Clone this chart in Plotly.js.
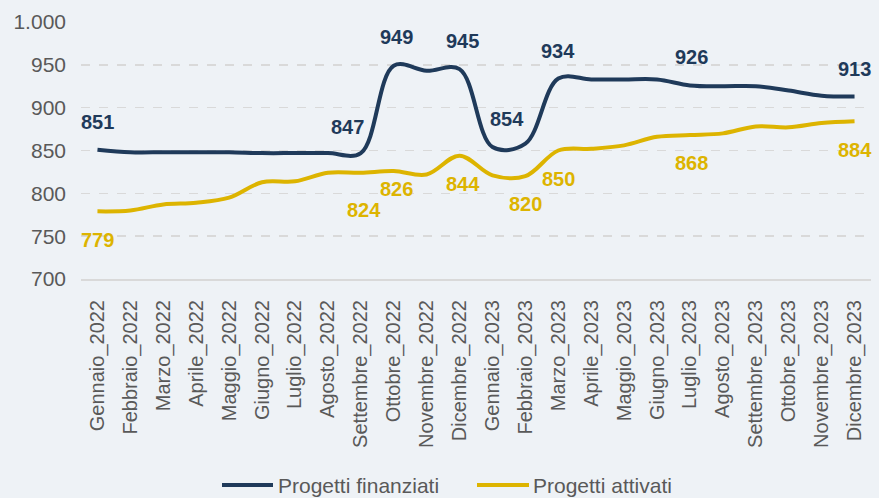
<!DOCTYPE html>
<html>
<head>
<meta charset="utf-8">
<script src="https://cdn.plot.ly/plotly-3.0.1.min.js"></script>
<style>
html,body{margin:0;padding:0;background:#EEF2F6;}
#chart{width:879px;height:498px;}
</style>
</head>
<body>
<div id="chart"></div>
<script>
const categories = [
  "Gennaio_2022","Febbraio_2022","Marzo_2022","Aprile_2022","Maggio_2022","Giugno_2022",
  "Luglio_2022","Agosto_2022","Settembre_2022","Ottobre_2022","Novembre_2022","Dicembre_2022",
  "Gennaio_2023","Febbraio_2023","Marzo_2023","Aprile_2023","Maggio_2023","Giugno_2023",
  "Luglio_2023","Agosto_2023","Settembre_2023","Ottobre_2023","Novembre_2023","Dicembre_2023"
];
const progettiFinanziati = [851,848,848,848,848,847,847,847,847,949,943,945,854,858,934,933,933,933,926,925,925,920,914,913];
const progettiAttivati   = [779,780,787,789,795,813,814,824,824,826,822,844,821,820,850,852,856,866,868,870,878,877,882,884];
const seriesNames = ["Progetti finanziati","Progetti attivati"];
const yTickVals = [700,750,800,850,900,950,1000];

// indices of points that carry a data label
const finanziatiLabelIdx = [0,8,9,11,12,14,18,23];
const attivatiLabelIdx   = [0,8,9,11,13,14,18,23];

// label placement (pixels) – layout only
const finanziatiShift = {0:[0,28],8:[-13,26],9:[3,29],11:[3,28],12:[15,28],14:[0,28],18:[2,28],23:[0,28]};
const attivatiShift   = {0:[0,-29],8:[3,-37],9:[3,-18],11:[3,-28],13:[0,-28],14:[0,-28],18:[2,-28],23:[0,-29]};

const navy = "#1F3A5A";
const gold = "#DDB400";
const grey = "#595959";
const fontFam = "Liberation Sans, Arial, sans-serif";

const traces = [
  {x: categories, y: progettiFinanziati, type: "scatter", mode: "lines", name: seriesNames[0],
   line: {color: navy, width: 4, shape: "spline", smoothing: 1}},
  {x: categories, y: progettiAttivati, type: "scatter", mode: "lines", name: seriesNames[1],
   line: {color: gold, width: 4, shape: "spline", smoothing: 1}}
];

const annotations = [];
finanziatiLabelIdx.forEach(i => {
  const s = finanziatiShift[i];
  annotations.push({x: categories[i], y: progettiFinanziati[i], text: String(progettiFinanziati[i]),
    showarrow: false, xshift: s[0], yshift: s[1],
    font: {family: fontFam, size: 20, color: navy, weight: 700}});
});
attivatiLabelIdx.forEach(i => {
  const s = attivatiShift[i];
  annotations.push({x: categories[i], y: progettiAttivati[i], text: String(progettiAttivati[i]),
    showarrow: false, xshift: s[0], yshift: s[1],
    font: {family: fontFam, size: 20, color: gold, weight: 700}});
});

// manual legend (container pixel geometry -> paper coords)
const plotL = 81, plotR = 871, plotT = 22, plotB = 279;
const px = v => (v - plotL) / (plotR - plotL);
const py = v => (plotB - v) / (plotB - plotT);
const legendY = 485;
const legendItems = [
  {name: seriesNames[0], color: navy, x0: 222, x1: 273, tx: 276},
  {name: seriesNames[1], color: gold, x0: 477, x1: 529, tx: 531}
];
const shapes = [];
legendItems.forEach(it => {
  shapes.push({type: "line", xref: "paper", yref: "paper", x0: px(it.x0), x1: px(it.x1),
    y0: py(legendY), y1: py(legendY), line: {color: it.color, width: 4}});
  annotations.push({xref: "paper", yref: "paper", x: px(it.tx), y: py(legendY), xanchor: "left",
    yanchor: "middle", text: it.name, showarrow: false,
    font: {family: fontFam, size: 21, color: grey}});
});

const layout = {
  width: 879, height: 498,
  paper_bgcolor: "#EEF2F6", plot_bgcolor: "#EEF2F6",
  separators: ",.",
  font: {family: fontFam, color: grey, size: 20},
  margin: {l: plotL, r: 879 - plotR, t: plotT, b: 498 - plotB},
  showlegend: false,
  xaxis: {type: "category", range: [-0.5, 23.5], tickangle: -90, showgrid: false, zeroline: false,
    showline: true, linecolor: "#D9D9D9", linewidth: 2, ticks: "", ticklabelstandoff: 11,
    automargin: false,
    tickfont: {family: fontFam, size: 20, color: grey}, fixedrange: true},
  yaxis: {range: [700, 1000], tickvals: yTickVals, tickformat: ",d", showgrid: true,
    gridcolor: "#D9D9D9", griddash: "dash", gridwidth: 1.5, zeroline: false, showline: false,
    ticks: "", ticklabelstandoff: 14, automargin: false,
    tickfont: {family: fontFam, size: 21, color: grey}, fixedrange: true},
  shapes: shapes,
  annotations: annotations
};

Plotly.newPlot("chart", traces, layout, {displayModeBar: false, staticPlot: true});
</script>
</body>
</html>
